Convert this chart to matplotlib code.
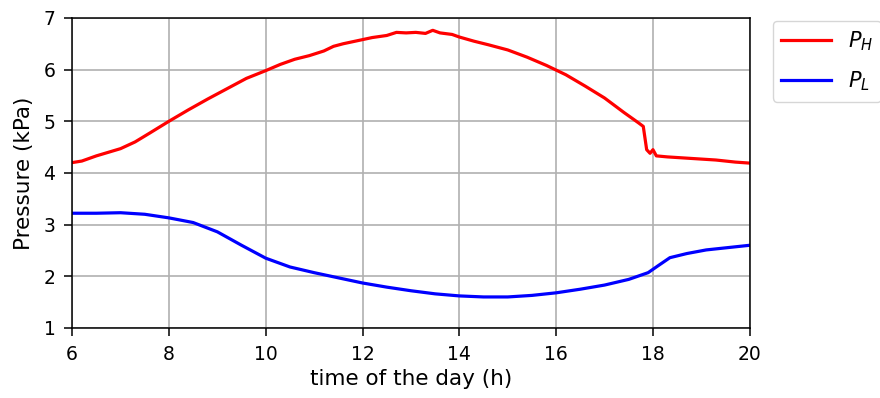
import numpy as np
import matplotlib
matplotlib.use("Agg")
import matplotlib.pyplot as plt

# Time of day (h) and high-side pressure P_H (kPa)
t_high = [6.0, 6.2, 6.5, 7.0, 7.3, 7.6, 8.0, 8.4, 8.8, 9.2, 9.6, 10.0, 10.3, 10.6,
          10.9, 11.2, 11.4, 11.6, 11.9, 12.2, 12.5, 12.7, 12.9, 13.1, 13.3, 13.45,
          13.6, 13.85, 14.0, 14.3, 14.6, 15.0, 15.4, 15.8, 16.2, 16.6, 17.0, 17.4,
          17.7, 17.8, 17.87, 17.94, 18.0, 18.07, 18.3, 18.8, 19.3, 19.7, 20.0]
p_high = [4.20, 4.23, 4.33, 4.47, 4.60, 4.77, 5.00, 5.22, 5.43, 5.63, 5.83, 5.98,
          6.10, 6.20, 6.27, 6.36, 6.45, 6.50, 6.56, 6.62, 6.66, 6.72, 6.71, 6.72,
          6.70, 6.76, 6.71, 6.68, 6.63, 6.55, 6.48, 6.38, 6.24, 6.08, 5.90, 5.68,
          5.45, 5.17, 4.97, 4.90, 4.45, 4.38, 4.45, 4.33, 4.31, 4.28, 4.25, 4.21, 4.19]

# Time of day (h) and low-side pressure P_L (kPa)
t_low = [6.0, 6.5, 7.0, 7.5, 8.0, 8.5, 9.0, 9.5, 10.0, 10.5, 11.0, 11.5, 12.0,
         12.5, 13.0, 13.5, 14.0, 14.5, 15.0, 15.5, 16.0, 16.5, 17.0, 17.5, 17.9,
         18.1, 18.35, 18.7, 19.1, 19.5, 20.0]
p_low = [3.22, 3.22, 3.23, 3.20, 3.13, 3.04, 2.86, 2.60, 2.35, 2.18, 2.07, 1.97,
         1.87, 1.79, 1.72, 1.66, 1.62, 1.60, 1.60, 1.63, 1.68, 1.75, 1.83, 1.94,
         2.07, 2.20, 2.36, 2.44, 2.51, 2.55, 2.60]

fig = plt.figure(figsize=(8.8, 3.98), dpi=100)
ax = fig.add_axes([0.082, 0.176, 0.770, 0.779])

ax.plot(t_high, p_high, color="red", lw=2.3, label="$P_H$")
ax.plot(t_low, p_low, color="blue", lw=2.3, label="$P_L$")

ax.set_xlim(6, 20)
ax.set_ylim(1, 7)
ax.set_xticks(np.arange(6, 21, 2))
ax.set_yticks(np.arange(1, 8, 1))
ax.tick_params(labelsize=13.5, length=6, width=1.1, pad=6)
for sp in ax.spines.values():
    sp.set_linewidth(1.1)
ax.grid(True, color="#b0b0b0", lw=1.2)
ax.set_xlabel("time of the day (h)", fontsize=15.5, labelpad=4)
ax.set_ylabel("Pressure (kPa)", fontsize=15.5, labelpad=7)

ax.legend(loc="upper left", bbox_to_anchor=(1.034, 0.99), fontsize=15,
          borderaxespad=0.0, handlelength=2.4, labelspacing=0.8)

fig.savefig("out.png", dpi=100)
